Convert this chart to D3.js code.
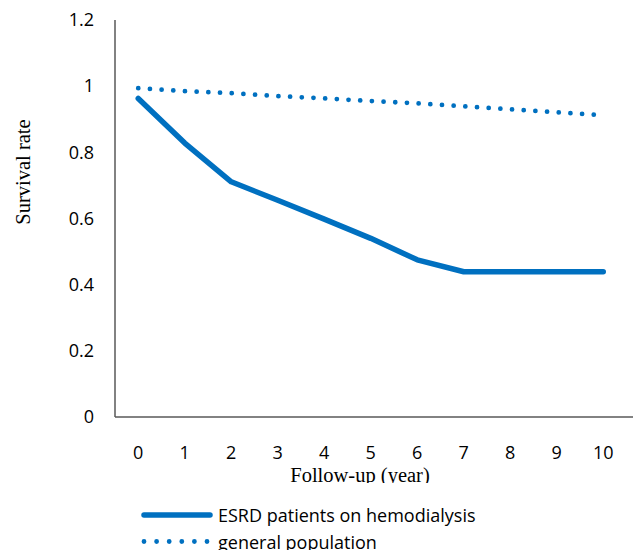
<!DOCTYPE html>
<html><head><meta charset="utf-8">
<script src="https://cdn.jsdelivr.net/npm/d3@7"></script>
<style>body{margin:0;background:#fff}svg{display:block}</style>
</head><body>
<svg id="c" width="633" height="550"></svg>
<script>
const years = ["0","1","2","3","4","5","6","7","8","9","10"];
const esrd = [0.963, 0.828, 0.711, 0.655, 0.598, 0.540, 0.475, 0.439, 0.439, 0.439, 0.439];
const generalPop = [0.994, 0.985, 0.979, 0.970, 0.963, 0.955, 0.948, 0.939, 0.930, 0.921, 0.912];
const yTicks = [0, 0.2, 0.4, 0.6, 0.8, 1, 1.2];
const seriesNames = ["ESRD patients on hemodialysis", "general population"];

const color = "#0070C0";
const axisColor = "#595959";
const tickFont = "'Open Sans', sans-serif";
const titleFont = "'Liberation Serif', 'Times New Roman', serif";

const svg = d3.select("#c");
const x = d3.scaleBand().domain(years).range([115, 626.5]).paddingInner(0).paddingOuter(0);
const y = d3.scaleLinear().domain([0, 1.2]).range([417, 20]);

// Y axis
const yAxis = d3.axisLeft(y).tickValues(yTicks).tickSize(0).tickPadding(21)
  .tickFormat(d => d3.format("~g")(d));
const gy = svg.append("g").attr("transform", "translate(115,0)").call(yAxis);
gy.select(".domain").remove();
gy.selectAll("text").attr("font-family", tickFont).attr("font-size", 18).attr("fill", "#000");

// X axis
const xAxis = d3.axisBottom(x).tickSize(0).tickPadding(29);
const gx = svg.append("g").attr("transform", "translate(0,417)").call(xAxis);
gx.select(".domain").remove();
gx.selectAll("text").attr("font-family", tickFont).attr("font-size", 18).attr("fill", "#000");

// axis lines
svg.append("line").attr("x1", 115).attr("x2", 115).attr("y1", y(1.2)).attr("y2", y(0))
  .attr("stroke", axisColor).attr("stroke-width", 1.5);
svg.append("line").attr("x1", 115).attr("x2", 633).attr("y1", y(0)).attr("y2", y(0))
  .attr("stroke", axisColor).attr("stroke-width", 1.5);

const line = d3.line().x((d, i) => x(years[i]) + x.bandwidth() / 2).y(d => y(d));

svg.append("path").datum(generalPop).attr("d", line)
  .attr("fill", "none").attr("stroke", color).attr("stroke-width", 4.8)
  .attr("stroke-linecap", "round").attr("stroke-dasharray", "0,11.7");
svg.append("path").datum(esrd).attr("d", line)
  .attr("fill", "none").attr("stroke", color).attr("stroke-width", 5.5)
  .attr("stroke-linecap", "round").attr("stroke-linejoin", "round");

// axis titles
svg.append("text").attr("transform", "translate(30,172) rotate(-90)")
  .attr("text-anchor", "middle").attr("font-family", titleFont).attr("font-size", 20.5)
  .attr("fill", "#000").text("Survival rate");
svg.append("text").attr("x", 360).attr("y", 481.5)
  .attr("text-anchor", "middle").attr("font-family", titleFont).attr("font-size", 20.5)
  .attr("fill", "#000").text("Follow-up (year)");

// legend (background covers lower part of x title)
const lg = svg.append("g");
lg.append("rect").attr("x", 0).attr("y", 483).attr("width", 633).attr("height", 67).attr("fill", "#fff");
const rows = [{y: 515, dash: null, w: 5.5}, {y: 541.5, dash: "0,12.6", w: 4.8}];
rows.forEach((r, i) => {
  lg.append("line").attr("x1", 144).attr("x2", i === 0 ? 210 : 207.5)
    .attr("y1", r.y).attr("y2", r.y).attr("stroke", color).attr("stroke-width", r.w)
    .attr("stroke-linecap", "round").attr("stroke-dasharray", r.dash);
  lg.append("text").attr("x", 218).attr("y", r.y + 7)
    .attr("font-family", tickFont).attr("font-size", 18).attr("fill", "#000")
    .text(seriesNames[i]);
});
</script>
</body></html>
